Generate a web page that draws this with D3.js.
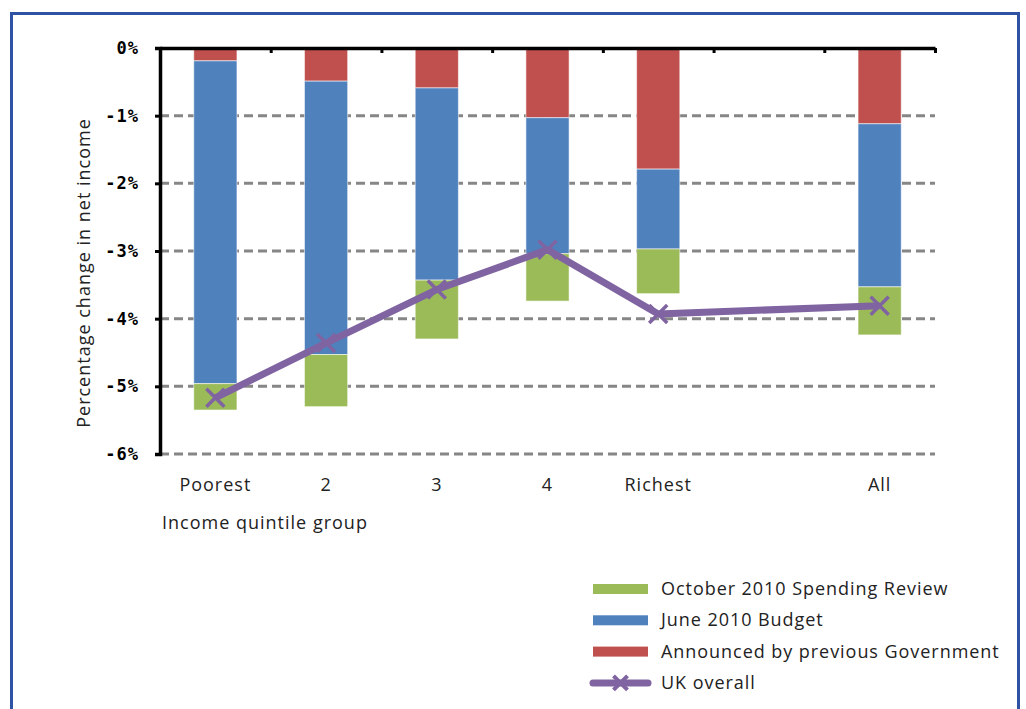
<!DOCTYPE html>
<html>
<head>
<meta charset="utf-8">
<script src="https://cdn.jsdelivr.net/npm/d3@7"></script>
<style>
  html, body { margin: 0; padding: 0; background: #fff; }
  svg { display: block; }
</style>
</head>
<body>
<svg id="chart" width="1026" height="709"></svg>
<script>
// slots on the category axis (blank slot between Richest and All)
const slots = ["Poorest", "2", "3", "4", "Richest", " ", "All"];
const categories = ["Poorest", "2", "3", "4", "Richest", "All"];
const previousGov = [-0.19, -0.49, -0.59, -1.03, -1.79, -1.12];
const juneBudget = [-4.77, -4.04, -2.84, -2.01, -1.18, -2.41];
const octoberSR = [-0.39, -0.77, -0.87, -0.70, -0.66, -0.71];
const ukOverall = [-5.17, -4.36, -3.57, -2.98, -3.93, -3.81];
const yTicks = [0, -1, -2, -3, -4, -5, -6];

const colors = { prev: '#C0504D', june: '#4F81BD', oct: '#9BBB59', line: '#8064A2' };
const labelFont = '"Open Sans", "Noto Sans", sans-serif';

const svg = d3.select('#chart');

// outer frame
svg.append('rect')
  .attr('x', 11.5).attr('y', 13.5)
  .attr('width', 1007).attr('height', 720)
  .attr('fill', 'none')
  .attr('stroke', '#2F52A5')
  .attr('stroke-width', 3);

const plot = { left: 160, right: 935, top: 48, bottom: 454 };

const x = d3.scaleBand().domain(slots).range([plot.left, plot.right]).paddingInner(0).paddingOuter(0);
const y = d3.scaleLinear().domain([-6, 0]).range([plot.bottom, plot.top]);
const barW = x.bandwidth() * 0.39;

// gridlines
svg.append('g')
  .selectAll('line')
  .data(yTicks.filter(d => d !== 0))
  .join('line')
  .attr('x1', plot.left).attr('x2', plot.right)
  .attr('y1', d => y(d)).attr('y2', d => y(d))
  .attr('stroke', '#868686')
  .attr('stroke-width', 3)
  .attr('stroke-dasharray', '9,5');

// stacked bars (all negative, stacked downward from zero)
const rows = categories.map((c, i) => ({ cat: c, prev: previousGov[i], june: juneBudget[i], oct: octoberSR[i] }));
const series = d3.stack()
  .keys(['prev', 'june', 'oct'])
  .offset(d3.stackOffsetDiverging)(rows);

svg.append('g')
  .selectAll('g')
  .data(series)
  .join('g')
  .attr('fill', d => colors[d.key])
  .selectAll('rect')
  .data(d => d)
  .join('rect')
  .attr('x', d => x(d.data.cat) + (x.bandwidth() - barW) / 2)
  .attr('y', d => y(Math.max(d[0], d[1])))
  .attr('width', barW)
  .attr('height', d => Math.abs(y(d[0]) - y(d[1])))
  .attr('stroke', 'rgba(255,255,255,0.55)')
  .attr('stroke-width', 1);

// y axis
const yAxis = svg.append('g')
  .attr('transform', `translate(${plot.left},0)`)
  .call(d3.axisLeft(y).tickValues(yTicks).tickSize(5).tickPadding(16).tickFormat(d => d + '%'));
yAxis.select('.domain').attr('stroke', '#000').attr('stroke-width', 3.5);
yAxis.selectAll('.tick line').attr('stroke', '#000').attr('stroke-width', 3);
yAxis.selectAll('.tick text')
  .attr('fill', '#000')
  .style('font-family', '"DejaVu Sans Mono", monospace')
  .style('font-weight', 'bold')
  .style('font-size', '17px')
  .style('letter-spacing', '1px');

// category axis along zero (ticks at slot boundaries)
const edge = d3.scaleLinear().domain([0, slots.length]).range([plot.left, plot.right]);
const topAxis = svg.append('g')
  .attr('transform', `translate(0,${y(0)})`)
  .call(d3.axisTop(edge).tickValues(d3.range(1, slots.length + 1)).tickSizeInner(-5).tickSizeOuter(0).tickFormat(''));
topAxis.select('.domain').attr('stroke', '#000').attr('stroke-width', 3.5);
topAxis.selectAll('.tick line').attr('stroke', '#000').attr('stroke-width', 3);

// category labels below the plot
const bottomAxis = svg.append('g')
  .attr('transform', `translate(0,${plot.bottom})`)
  .call(d3.axisBottom(x).tickSize(0).tickPadding(24));
bottomAxis.select('.domain').remove();
bottomAxis.selectAll('.tick text')
  .attr('fill', '#222')
  .style('font-family', labelFont)
  .style('font-size', '18px')
  .style('letter-spacing', '1px');

// overall line
const linePts = categories.map((c, i) => ({ cat: c, v: ukOverall[i] }));
const cx = d => x(d.cat) + x.bandwidth() / 2;
svg.append('path')
  .datum(linePts)
  .attr('fill', 'none')
  .attr('stroke', colors.line)
  .attr('stroke-width', 7)
  .attr('stroke-linejoin', 'round')
  .attr('d', d3.line().x(cx).y(d => y(d.v)));

const cross = (px, py, s) => `M${px - s},${py - s}L${px + s},${py + s}M${px - s},${py + s}L${px + s},${py - s}`;
svg.append('g')
  .selectAll('path')
  .data(linePts)
  .join('path')
  .attr('d', d => cross(cx(d), y(d.v), 9))
  .attr('stroke', colors.line)
  .attr('stroke-width', 3.5);

// axis titles
svg.append('text')
  .attr('transform', `translate(90,${(plot.top + plot.bottom) / 2 + 22}) rotate(-90)`)
  .attr('text-anchor', 'middle')
  .attr('fill', '#222')
  .style('font-family', labelFont)
  .style('font-size', '18px')
  .style('letter-spacing', '1px')
  .text('Percentage change in net income');

svg.append('text')
  .attr('x', 162).attr('y', 529)
  .attr('fill', '#222')
  .style('font-family', labelFont)
  .style('font-size', '18px')
  .style('letter-spacing', '1px')
  .text('Income quintile group');

// legend
const legendItems = [
  { label: 'October 2010 Spending Review', color: colors.oct, type: 'bar' },
  { label: 'June 2010 Budget', color: colors.june, type: 'bar' },
  { label: 'Announced by previous Government', color: colors.prev, type: 'bar' },
  { label: 'UK overall', color: colors.line, type: 'line' }
];
const legend = svg.append('g').attr('transform', 'translate(593,589)');
const li = legend.selectAll('g')
  .data(legendItems)
  .join('g')
  .attr('transform', (d, i) => `translate(0,${i * 31.3})`);
li.filter(d => d.type === 'bar').append('rect')
  .attr('x', 0).attr('y', -5).attr('width', 55).attr('height', 10)
  .attr('fill', d => d.color);
li.filter(d => d.type === 'line').append('line')
  .attr('x1', 0).attr('x2', 55).attr('y1', 0).attr('y2', 0)
  .attr('stroke', d => d.color).attr('stroke-width', 7).attr('stroke-linecap', 'round');
li.filter(d => d.type === 'line').append('path')
  .attr('d', cross(27.5, 0, 7))
  .attr('stroke', d => d.color).attr('stroke-width', 4);
li.append('text')
  .attr('x', 68).attr('y', 6)
  .attr('fill', '#222')
  .style('font-family', labelFont)
  .style('font-size', '18px')
  .style('letter-spacing', '0.95px')
  .text(d => d.label);
</script>
</body>
</html>
